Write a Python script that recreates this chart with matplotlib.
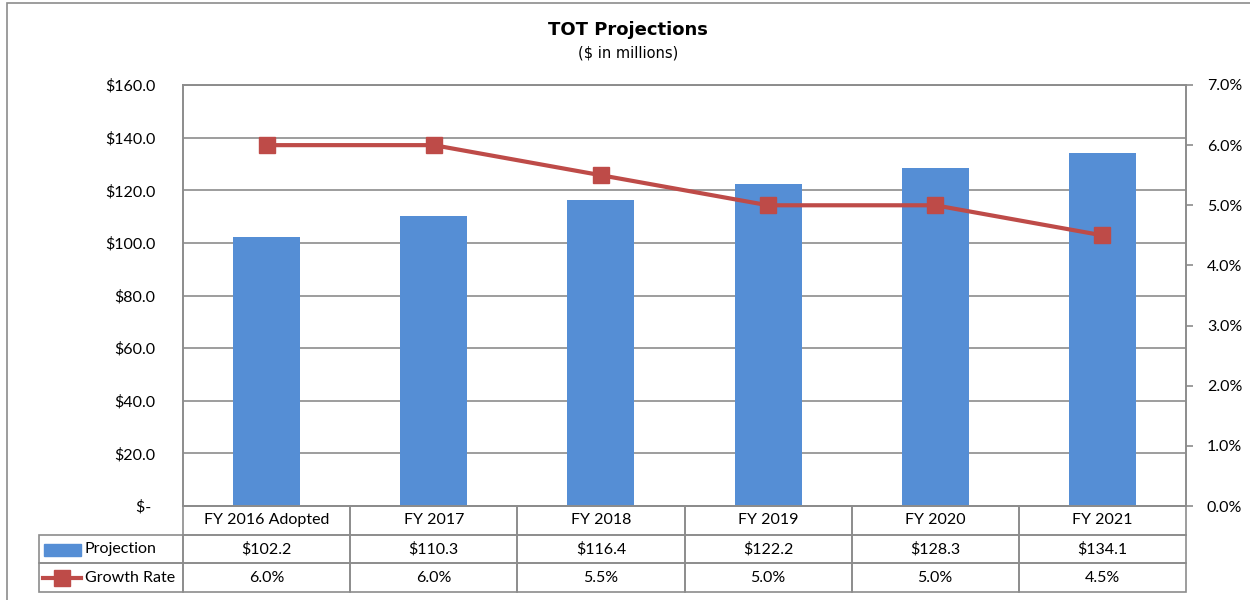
import matplotlib
matplotlib.use("Agg")
import matplotlib.pyplot as plt
from matplotlib.patches import Rectangle
from matplotlib.lines import Line2D

# ================================
# Data
# ================================
categories = ["FY 2016 Adopted", "FY 2017", "FY 2018", "FY 2019", "FY 2020", "FY 2021"]
projection = [102.2, 110.3, 116.4, 122.2, 128.3, 134.1]
growth_rate = [6.0, 6.0, 5.5, 5.0, 5.0, 4.5]
left_ticks = [0, 20, 40, 60, 80, 100, 120, 140, 160]
right_ticks = [0, 1, 2, 3, 4, 5, 6, 7]
row_names = ["Projection", "Growth Rate"]

BAR_COLOR = "#558ED5"
LINE_COLOR = "#BE4B48"
GRID_COLOR = "#8C8C8C"

plt.rcParams["font.family"] = ["Lato", "DejaVu Sans"]

W, H = 1250, 600
fig = plt.figure(figsize=(12.5, 6), dpi=100)

# plot area in pixels
L, R, T, B = 183, 1186, 85, 506
ax = fig.add_axes([L / W, 1 - B / H, (R - L) / W, (B - T) / H])

# outer chart frame
fig.patches.append(Rectangle((7 / W, -0.01), 1.02, 1 - 3 / H + 0.01, transform=fig.transFigure,
                             fill=False, edgecolor=GRID_COLOR, lw=1.2, zorder=0))

x = list(range(len(categories)))
ax.bar(x, projection, width=0.4, color=BAR_COLOR, zorder=2)
ax.set_xlim(-0.5, len(categories) - 0.5)
ax.set_ylim(0, 160)
ax.set_yticks(left_ticks)
ax.set_yticklabels(["$- " if v == 0 else f"${v:.1f}" for v in left_ticks], fontsize=11.5)
ax.tick_params(axis="y", length=0, pad=20)
ax.set_xticks([])
ax.grid(axis="y", color=GRID_COLOR, lw=1.2, zorder=0)
ax.set_axisbelow(True)
for s in ax.spines.values():
    s.set_color(GRID_COLOR)
    s.set_linewidth(1.2)

ax2 = ax.twinx()
ax2.plot(x, growth_rate, color=LINE_COLOR, lw=3, marker="s", markersize=11,
         markerfacecolor=LINE_COLOR, markeredgecolor=LINE_COLOR, zorder=3)
ax2.set_ylim(0, 7)
ax2.set_yticks(right_ticks)
ax2.set_yticklabels([f"{v:.1f}%" for v in right_ticks], fontsize=11.5)
ax2.tick_params(axis="y", length=5, width=1.2, color=GRID_COLOR, pad=10)
for s in ax2.spines.values():
    s.set_color(GRID_COLOR)
    s.set_linewidth(1.2)

# title
fig.text(628 / W, 1 - 30 / H, "TOT Projections", ha="center", va="center",
         fontsize=13, fontweight="bold", family="DejaVu Sans")
fig.text(628 / W, 1 - 53 / H, "($ in millions)", ha="center", va="center",
         fontsize=10.5, family="DejaVu Sans")

# ================================
# Data table under the chart (axes coords)
# ================================
aw = R - L
ah = B - T
label_w = (L - 39) / aw
row_h = 28.7 / ah
col_w = 1 / len(categories)
rows = [
    [f"${v:.1f}" for v in projection],
    [f"{v:.1f}%" for v in growth_rate],
]


def cell(x0, y0, w, h, text, ha="center", pad=0.0):
    ax.add_patch(Rectangle((x0, y0), w, h, transform=ax.transAxes, fill=False,
                           edgecolor=GRID_COLOR, lw=1.2, clip_on=False))
    tx = x0 + w / 2 if ha == "center" else x0 + pad
    ax.text(tx, y0 + h / 2, text, transform=ax.transAxes, ha=ha, va="center",
            fontsize=11.5, clip_on=False)


for j, c in enumerate(categories):
    cell(j * col_w, -row_h, col_w, row_h, c)
for i, (name, vals) in enumerate(zip(row_names, rows), start=2):
    y0 = -i * row_h
    cell(-label_w, y0, label_w, row_h, name, ha="left", pad=46 / aw)
    for j, v in enumerate(vals):
        cell(j * col_w, y0, col_w, row_h, v)

# legend keys inside the row label cells
fig.patches.append(Rectangle((44 / W, 1 - 556 / H), 37 / W, 12 / H, transform=fig.transFigure,
                             color=BAR_COLOR, zorder=5))
fig.lines.append(Line2D([43 / W, 81 / W], [1 - 578 / H, 1 - 578 / H], transform=fig.transFigure,
                        color=LINE_COLOR, lw=3, zorder=5))
fig.lines.append(Line2D([62 / W], [1 - 578 / H], transform=fig.transFigure, color=LINE_COLOR,
                        marker="s", markersize=11, zorder=6))

fig.savefig("out.png", dpi=100)
